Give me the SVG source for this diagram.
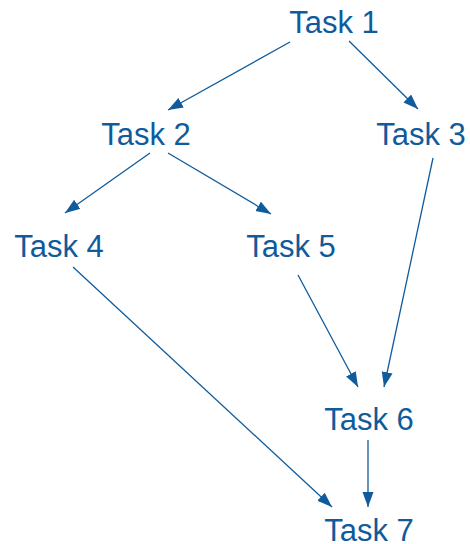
<svg xmlns="http://www.w3.org/2000/svg" width="470" height="544" viewBox="0 0 470 544">
<defs>
<style>
.lbl{font-family:"Liberation Sans",Arial,sans-serif;font-size:31px;fill:#0f5b9c;text-anchor:middle}
.edge{stroke:#0f5b9c;stroke-width:1.3;fill:none;marker-end:url(#ah)}
</style>
<marker id="ah" markerUnits="userSpaceOnUse" markerWidth="16" markerHeight="12" refX="15" refY="5.5" orient="auto">
<path d="M0,0 L15,5.5 L0,11 z" fill="#0f5b9c"/>
</marker>
</defs>
<rect width="470" height="544" fill="#ffffff"/>
<g id="connectors">
<line class="edge" x1="290" y1="42" x2="168" y2="110"/>
<line class="edge" x1="349" y1="41" x2="418" y2="109"/>
<line class="edge" x1="150" y1="153" x2="65" y2="213"/>
<line class="edge" x1="168" y1="153" x2="271" y2="214"/>
<line class="edge" x1="433" y1="158" x2="384" y2="387"/>
<line class="edge" x1="298" y1="275" x2="358" y2="387"/>
<line class="edge" x1="73" y1="267" x2="332" y2="507"/>
<line class="edge" x1="368" y1="440" x2="368" y2="507"/>
</g>
<g id="task1"><text class="lbl" x="334" y="33">Task 1</text></g>
<g id="task2"><text class="lbl" x="146" y="145">Task 2</text></g>
<g id="task3"><text class="lbl" x="421" y="145">Task 3</text></g>
<g id="task4"><text class="lbl" x="59" y="257">Task 4</text></g>
<g id="task5"><text class="lbl" x="291" y="257">Task 5</text></g>
<g id="task6"><text class="lbl" x="369" y="430">Task 6</text></g>
<g id="task7"><text class="lbl" x="369" y="541">Task 7</text></g>
</svg>
